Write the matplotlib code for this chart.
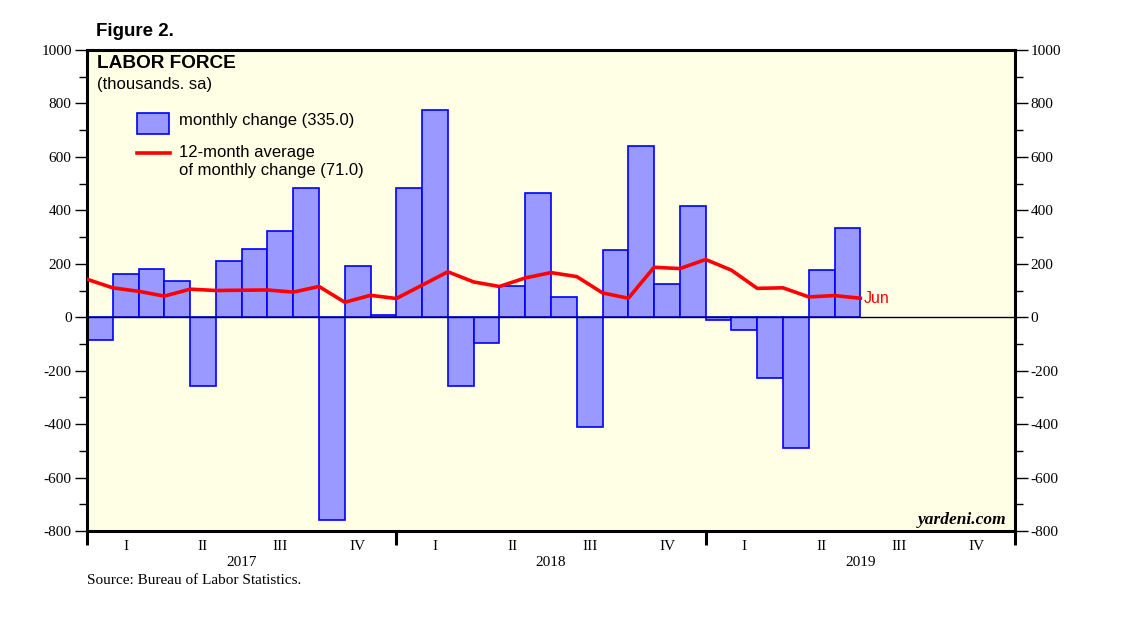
import matplotlib
matplotlib.use("Agg")
import matplotlib.pyplot as plt
import numpy as np
from matplotlib.patches import Rectangle
from matplotlib.lines import Line2D

months = ["Jan 2017", "Feb 2017", "Mar 2017", "Apr 2017", "May 2017", "Jun 2017",
          "Jul 2017", "Aug 2017", "Sep 2017", "Oct 2017", "Nov 2017", "Dec 2017",
          "Jan 2018", "Feb 2018", "Mar 2018", "Apr 2018", "May 2018", "Jun 2018",
          "Jul 2018", "Aug 2018", "Sep 2018", "Oct 2018", "Nov 2018", "Dec 2018",
          "Jan 2019", "Feb 2019", "Mar 2019", "Apr 2019", "May 2019", "Jun 2019"]
monthly_change = [-86, 160, 182, 134, -258, 212, 257, 321, 482, -757, 190, 10,
                  485, 777, -256, -95, 115, 463, 77, -409, 253, 639, 126, 418,
                  -12, -46, -226, -491, 176, 335]
# 12-month average, Dec 2016 through Jun 2019
avg_months = ["Dec 2016"] + months
avg_12m = [142, 110, 97, 79, 105, 100, 101, 102, 94, 115, 56, 82, 70,
           120, 170, 132, 115, 147, 167, 152, 91, 71, 187, 182, 216,
           176, 108, 110, 76, 81, 71]
quarters = ["I", "II", "III", "IV"]
years = ["2017", "2018", "2019"]

fig = plt.figure(figsize=(11.38, 6.21), dpi=100)
ax = fig.add_axes([87/1138, 1-531/621, (1015-87)/1138, (531-50)/621])
ax.set_facecolor("#FFFFE6")

x_bar = np.arange(len(monthly_change))
ax.bar(x_bar, monthly_change, width=1.0, align="edge", color="#9999FF",
       edgecolor="#0000FF", linewidth=1.2, zorder=2)
x_line = np.arange(len(avg_12m))
ax.plot(x_line, avg_12m, color="#FF0000", linewidth=2.6, zorder=3, solid_joinstyle="round")
ax.axhline(0, color="black", linewidth=1.0, zorder=4)

ax.set_xlim(0, 36)
ax.set_ylim(-800, 1000)

for s in ax.spines.values():
    s.set_linewidth(2.2)
    s.set_color("black")

serif = ["Liberation Serif", "DejaVu Serif"]
sans = ["Liberation Sans", "DejaVu Sans"]

yt = np.arange(-800, 1001, 200)
ax.set_yticks(yt)
ax.set_yticks(np.arange(-700, 1000, 200), minor=True)
ax.set_yticklabels([str(v) for v in yt], fontfamily=serif, fontsize=11)
ax.tick_params(axis="y", which="major", direction="out", length=9, width=1.0,
               left=True, right=True, labelleft=True, labelright=True, pad=2)
ax.tick_params(axis="y", which="minor", direction="out", length=6, width=1.0,
               left=True, right=True)

ax.set_xticks([0, 12, 24, 36])
ax.set_xticklabels([])
ax.tick_params(axis="x", which="major", direction="out", length=10, width=2.2)

# quarter and year labels
for yi, yr in enumerate(years):
    for qi, q in enumerate(quarters):
        ax.text(yi*12 + qi*3 + 1.5, -16/481, q, transform=ax.get_xaxis_transform(),
                ha="center", va="center", fontfamily=serif, fontsize=11)
    ax.text(yi*12 + 6, -32/481, yr, transform=ax.get_xaxis_transform(),
            ha="center", va="center", fontfamily=serif, fontsize=11)

ax.text(x_line[-1] + 0.15, avg_12m[-1], "Jun", color="#FF0000", fontfamily=sans,
        fontsize=11.5, ha="left", va="center")

# texts
fig.text(96/1138, 1-32/621, "Figure 2.", fontfamily=sans, fontweight="bold",
         fontsize=13.5, ha="left", va="center")
fig.text(97/1138, 1-64/621, "LABOR FORCE", fontfamily=sans, fontweight="bold",
         fontsize=13.7, ha="left", va="center")
fig.text(97/1138, 1-84/621, "(thousands. sa)", fontfamily=sans,
         fontsize=12, ha="left", va="center")

# legend
fig.patches.append(Rectangle((137/1138, 1-134/621), 32/1138, 21/621,
                             transform=fig.transFigure, facecolor="#9999FF",
                             edgecolor="#0000FF", linewidth=1.2))
fig.text(179/1138, 1-120/621, "monthly change (335.0)", fontfamily=sans,
         fontsize=12, ha="left", va="center")
fig.lines.append(Line2D([137/1138, 170/1138], [1-153/621, 1-153/621],
                        transform=fig.transFigure, color="#FF0000", linewidth=2.6))
fig.text(179/1138, 1-153/621, "12-month average", fontfamily=sans,
         fontsize=12, ha="left", va="center")
fig.text(179/1138, 1-170/621, "of monthly change (71.0)", fontfamily=sans,
         fontsize=12, ha="left", va="center")

fig.text(1006/1138, 1-520/621, "yardeni.com", fontfamily=serif, fontweight="bold",
         fontstyle="italic", fontsize=12.5, ha="right", va="center")
fig.text(87/1138, 1-580/621, "Source: Bureau of Labor Statistics.", fontfamily=serif,
         fontsize=11, ha="left", va="center")

fig.savefig("out.png", dpi=100)
